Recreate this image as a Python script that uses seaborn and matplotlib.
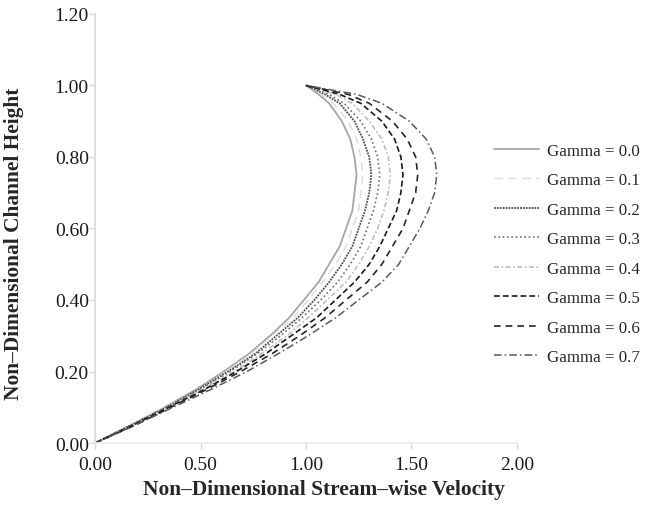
import matplotlib
matplotlib.use("Agg")
import matplotlib.pyplot as plt
import pandas as pd
import seaborn as sns

sns.set_theme(style="white")
plt.rcParams["font.family"] = ["Liberation Serif", "DejaVu Serif"]

height = [0.0, 0.05, 0.1, 0.15, 0.2, 0.25, 0.3, 0.35, 0.4, 0.45, 0.5, 0.55,
          0.6, 0.65, 0.7, 0.75, 0.8, 0.85, 0.9, 0.95, 0.975, 1.0]
u_g00 = [0, .17, .33, .48, .61, .73, .83, .92, .99, 1.06, 1.11, 1.16,
         1.19, 1.22, 1.23, 1.24, 1.23, 1.21, 1.17, 1.11, 1.06, 1.0]
u_g01 = [0, .17, .33, .49, .62, .74, .84, .94, 1.01, 1.08, 1.14, 1.19,
         1.22, 1.25, 1.26, 1.27, 1.26, 1.24, 1.20, 1.13, 1.07, 1.0]
u_g02 = [0, .17, .34, .49, .63, .76, .86, .96, 1.04, 1.11, 1.17, 1.22,
         1.25, 1.28, 1.30, 1.31, 1.30, 1.27, 1.23, 1.16, 1.09, 1.0]
u_g03 = [0, .18, .34, .50, .64, .77, .88, .98, 1.07, 1.15, 1.21, 1.26,
         1.29, 1.32, 1.34, 1.35, 1.34, 1.31, 1.26, 1.18, 1.11, 1.0]
u_g04 = [0, .18, .35, .51, .66, .79, .91, 1.01, 1.10, 1.19, 1.25, 1.30,
         1.34, 1.37, 1.39, 1.40, 1.39, 1.36, 1.30, 1.22, 1.14, 1.0]
u_g05 = [0, .18, .35, .52, .67, .81, .93, 1.05, 1.14, 1.23, 1.30, 1.35,
         1.39, 1.43, 1.45, 1.46, 1.45, 1.42, 1.36, 1.26, 1.16, 1.0]
u_g06 = [0, .19, .36, .53, .69, .84, .97, 1.09, 1.19, 1.29, 1.36, 1.41,
         1.46, 1.49, 1.52, 1.53, 1.52, 1.48, 1.41, 1.30, 1.20, 1.0]
u_g07 = [0, .19, .37, .55, .72, .87, 1.01, 1.14, 1.25, 1.36, 1.44, 1.49,
         1.54, 1.58, 1.61, 1.62, 1.61, 1.57, 1.49, 1.36, 1.24, 1.0]
gammas = ["0.0", "0.1", "0.2", "0.3", "0.4", "0.5", "0.6", "0.7"]
profiles = [u_g00, u_g01, u_g02, u_g03, u_g04, u_g05, u_g06, u_g07]

styles = [
    dict(color="#a6a6a6", lw=1.3, ls="-"),
    dict(color="#dcdcdc", lw=1.0, ls=(0, (6, 4))),
    dict(color="#4d4d4d", lw=1.3, ls=(0, (1, 0.6))),
    dict(color="#6e6e6e", lw=1.2, ls=(0, (1, 1.6))),
    dict(color="#bdbdbd", lw=1.2, ls=(0, (3, 1.5, 1, 1.5))),
    dict(color="#1a1a1a", lw=1.2, ls=(0, (3.5, 1.8))),
    dict(color="#262626", lw=1.2, ls=(0, (4, 3))),
    dict(color="#595959", lw=1.1, ls=(0, (5, 2, 1, 2))),
]

rows = []
for g, u in zip(gammas, profiles):
    for uu, hh in zip(u, height):
        rows.append({"gamma": g, "u": uu, "h": hh})
df = pd.DataFrame(rows)

fig = plt.figure(figsize=(6.51, 5.06), dpi=100)
ax = fig.add_axes([0.146, 0.1225, 0.648, 0.848])
for g, st in zip(gammas, styles):
    sns.lineplot(data=df[df["gamma"] == g], x="u", y="h", sort=False, estimator=None,
                 color=st["color"], lw=st["lw"], linestyle=st["ls"],
                 label=f"Gamma = {g}", ax=ax)

ax.set_xlim(0, 2.0)
ax.set_ylim(0, 1.2)
ax.set_xticks([0, 0.5, 1.0, 1.5, 2.0])
ax.set_yticks([0, 0.2, 0.4, 0.6, 0.8, 1.0, 1.2])
ax.xaxis.set_major_formatter(matplotlib.ticker.FormatStrFormatter("%.2f"))
ax.yaxis.set_major_formatter(matplotlib.ticker.FormatStrFormatter("%.2f"))
ax.tick_params(axis="both", labelsize=14, colors="#d9d9d9", labelcolor="#1a1a1a",
               length=4, width=1, direction="out", left=True, bottom=True)
ax.tick_params(axis="x", pad=5)
ax.tick_params(axis="y", pad=0.5)
ax.spines[["top", "right"]].set_visible(False)
ax.spines["left"].set_color("#d9d9d9")
ax.spines["bottom"].set_color("#ececec")
ax.set_xlabel("Non\u2013Dimensional Stream\u2013wise Velocity", fontsize=15.4,
              weight="bold", labelpad=3)
ax.set_ylabel("Non\u2013Dimensional Channel Height", fontsize=15.4, weight="bold")
ax.xaxis.set_label_coords(0.543, -0.085)
ax.yaxis.set_label_coords(-0.168, 0.466)
ax.legend(frameon=False, loc="upper left", bbox_to_anchor=(0.736, 0.746),
          bbox_transform=fig.transFigure, fontsize=12.2, handlelength=2.65,
          handletextpad=0.47, labelspacing=0.795)
fig.savefig("out.png", dpi=100)
plt.close(fig)
